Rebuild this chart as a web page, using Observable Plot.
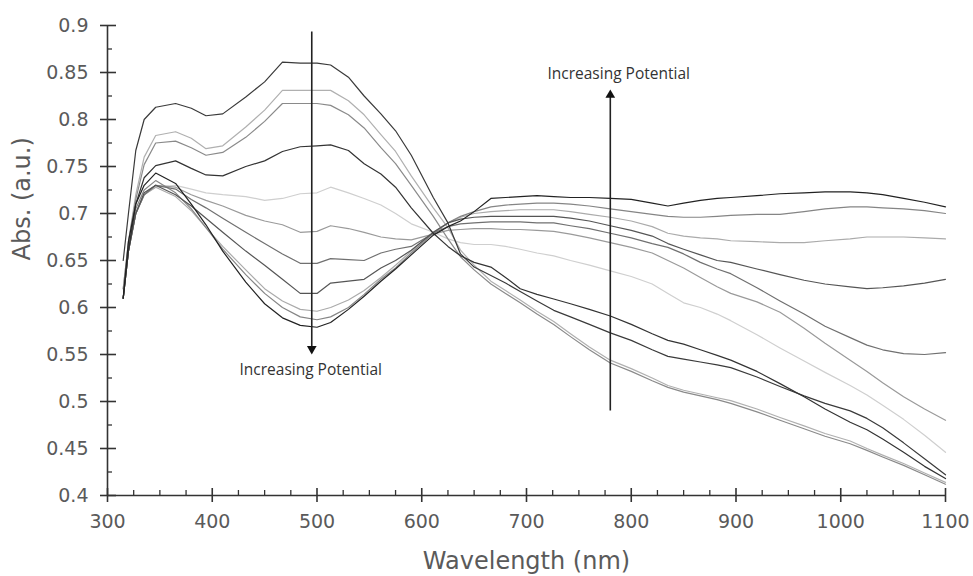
<!DOCTYPE html>
<html>
<head>
<meta charset="utf-8">
<script src="https://cdn.jsdelivr.net/npm/d3@7"></script>
<script src="https://cdn.jsdelivr.net/npm/@observablehq/plot@0.6"></script>
<style>
  html, body { margin: 0; padding: 0; background: #fff; }
  #chart { width: 973px; height: 576px; }
</style>
</head>
<body>
<div id="chart"></div>
<script>
// ---- data ----
const wavelength = [315,320,327,335,346,365,380,394,410,432,450,467,484,500,513,530,545,561,575,590,611,625,637,650,666,680,694,710,726,742,760,780,800,820,835,850,866,882,895,920,942,965,985,1009,1025,1040,1060,1080,1100];

const specA = [0.65,0.70,0.767,0.80,0.813,0.817,0.812,0.804,0.806,0.824,0.84,0.861,0.86,0.86,0.858,0.845,0.825,0.806,0.788,0.762,0.717,0.69,0.657,0.643,0.634,0.626,0.617,0.607,0.597,0.59,0.582,0.573,0.565,0.555,0.548,0.545,0.542,0.539,0.536,0.526,0.516,0.506,0.498,0.49,0.482,0.472,0.456,0.439,0.422];
const specB = [0.62,0.67,0.72,0.76,0.783,0.787,0.78,0.769,0.772,0.792,0.81,0.831,0.831,0.831,0.831,0.82,0.805,0.784,0.766,0.74,0.706,0.685,0.661,0.645,0.628,0.618,0.608,0.596,0.585,0.572,0.558,0.544,0.535,0.525,0.517,0.512,0.508,0.504,0.501,0.492,0.483,0.474,0.466,0.458,0.45,0.443,0.434,0.424,0.414];
const specC = [0.62,0.67,0.715,0.752,0.775,0.777,0.77,0.762,0.765,0.781,0.798,0.817,0.817,0.817,0.815,0.805,0.791,0.77,0.753,0.73,0.697,0.673,0.654,0.64,0.625,0.615,0.605,0.593,0.582,0.569,0.555,0.541,0.532,0.522,0.515,0.51,0.506,0.502,0.498,0.489,0.48,0.471,0.463,0.455,0.448,0.441,0.432,0.422,0.412];
const specD = [0.61,0.66,0.71,0.738,0.751,0.756,0.748,0.741,0.74,0.75,0.756,0.766,0.771,0.772,0.773,0.767,0.753,0.742,0.728,0.706,0.679,0.665,0.655,0.648,0.643,0.632,0.62,0.614,0.609,0.604,0.598,0.591,0.582,0.572,0.565,0.561,0.555,0.549,0.544,0.532,0.519,0.505,0.492,0.478,0.47,0.46,0.446,0.431,0.418];
const specE = [0.61,0.66,0.70,0.72,0.728,0.73,0.726,0.722,0.72,0.718,0.714,0.716,0.721,0.722,0.728,0.722,0.716,0.709,0.70,0.689,0.68,0.673,0.669,0.667,0.667,0.665,0.662,0.658,0.655,0.65,0.645,0.639,0.633,0.625,0.615,0.605,0.60,0.593,0.586,0.571,0.557,0.543,0.531,0.517,0.507,0.496,0.481,0.464,0.446];
const specF = [0.61,0.66,0.70,0.72,0.73,0.728,0.72,0.714,0.708,0.698,0.692,0.688,0.68,0.681,0.687,0.684,0.68,0.675,0.673,0.672,0.678,0.682,0.683,0.684,0.684,0.683,0.683,0.682,0.681,0.678,0.674,0.669,0.664,0.658,0.65,0.642,0.632,0.622,0.615,0.606,0.595,0.578,0.562,0.544,0.532,0.52,0.505,0.492,0.48];
const specG = [0.61,0.66,0.70,0.72,0.73,0.726,0.715,0.706,0.695,0.68,0.668,0.657,0.647,0.647,0.652,0.651,0.65,0.658,0.662,0.665,0.679,0.686,0.689,0.69,0.691,0.691,0.691,0.69,0.69,0.687,0.684,0.679,0.674,0.668,0.664,0.657,0.648,0.641,0.636,0.621,0.607,0.593,0.58,0.568,0.56,0.555,0.551,0.55,0.552];
const specH = [0.61,0.66,0.70,0.722,0.73,0.72,0.708,0.695,0.68,0.66,0.645,0.63,0.615,0.615,0.626,0.628,0.63,0.642,0.65,0.661,0.68,0.69,0.694,0.696,0.697,0.697,0.697,0.697,0.697,0.695,0.692,0.687,0.682,0.676,0.668,0.662,0.656,0.65,0.648,0.641,0.635,0.629,0.625,0.622,0.62,0.621,0.623,0.626,0.63];
const specI = [0.61,0.66,0.70,0.72,0.728,0.718,0.703,0.685,0.665,0.64,0.62,0.607,0.598,0.596,0.60,0.608,0.618,0.632,0.645,0.66,0.68,0.69,0.696,0.70,0.702,0.703,0.704,0.704,0.704,0.702,0.699,0.696,0.692,0.686,0.679,0.676,0.674,0.673,0.671,0.67,0.669,0.669,0.671,0.673,0.675,0.675,0.675,0.674,0.673];
const specJ = [0.61,0.665,0.705,0.725,0.735,0.722,0.705,0.685,0.662,0.635,0.615,0.60,0.59,0.587,0.59,0.60,0.614,0.63,0.642,0.658,0.679,0.69,0.697,0.702,0.707,0.709,0.71,0.711,0.711,0.71,0.708,0.705,0.702,0.699,0.697,0.696,0.696,0.697,0.698,0.699,0.699,0.702,0.705,0.707,0.707,0.706,0.705,0.703,0.70];
const specK = [0.61,0.67,0.71,0.73,0.743,0.732,0.71,0.688,0.66,0.627,0.604,0.589,0.581,0.579,0.584,0.598,0.612,0.628,0.641,0.656,0.677,0.686,0.692,0.702,0.716,0.717,0.718,0.719,0.718,0.717,0.717,0.716,0.715,0.711,0.708,0.711,0.714,0.716,0.717,0.719,0.721,0.722,0.723,0.723,0.722,0.72,0.716,0.712,0.707];

const seriesNames = ["A","B","C","D","E","F","G","H","I","J","K"];
const seriesValues = [specA,specB,specC,specD,specE,specF,specG,specH,specI,specJ,specK];

const xMajor = [300,400,500,600,700,800,900,1000,1100];
const xMinor = [325,350,375,425,450,475,525,550,575,625,650,675,725,750,775,825,850,875,925,950,975,1025,1050,1075];
const yMajor = [0.4,0.45,0.5,0.55,0.6,0.65,0.7,0.75,0.8,0.85,0.9];
const yMinor = [0.425,0.475,0.525,0.575,0.625,0.675,0.725,0.775,0.825,0.875];

const annotationText = ["Increasing Potential","Increasing Potential"];
const arrowX = [495, 780];
const arrowFrom = [0.893, 0.49];
const arrowTo = [0.556, 0.826];
const textX = [494, 788];
const textY = [0.533, 0.848];

// ---- styles ----
const strokeFor = {A:"#3a3a3a",B:"#b0b0b0",C:"#8a8a8a",D:"#333333",E:"#cfcfcf",F:"#9a9a9a",G:"#707070",H:"#555555",I:"#ababab",J:"#858585",K:"#222222"};
const drawOrder = ["E","I","B","F","J","C","G","H","A","D","K"];

const rows = [];
seriesNames.forEach((s, k) => {
  wavelength.forEach((w, i) => rows.push({series: s, wl: w, v: seriesValues[k][i]}));
});

const arrows = arrowX.map((x, i) => ({x, y1: arrowFrom[i], y2: arrowTo[i], up: arrowTo[i] > arrowFrom[i]}));
const labels = annotationText.map((t, i) => ({t, x: textX[i], y: textY[i]}));

const axisColor = "#333";
const labelColor = "#5a5a5a";
const font = "DejaVu Sans, sans-serif";

const chart = Plot.plot({
  width: 973,
  height: 576,
  marginLeft: 107,
  marginRight: 28,
  marginTop: 25,
  marginBottom: 81,
  style: {background: "#fff", fontFamily: font},
  x: {domain: [300, 1100]},
  y: {domain: [0.4, 0.9]},
  marks: [
    ...drawOrder.map(s => Plot.line(rows.filter(d => d.series === s), {x: "wl", y: "v", stroke: strokeFor[s], strokeWidth: 1.2})),
    // axis lines
    Plot.ruleY([0.4], {x1: 300, x2: 1100, stroke: axisColor, strokeWidth: 1.6}),
    Plot.ruleX([300], {y1: 0.4, y2: 0.9, stroke: axisColor, strokeWidth: 1.6}),
    // ticks
    Plot.ruleX(xMajor, {y1: 0.4, y2: 0.4, insetTop: -7, insetBottom: -7, stroke: axisColor, strokeWidth: 1.6}),
    Plot.ruleX(xMinor, {y1: 0.4, y2: 0.4, insetTop: -5, insetBottom: 0, stroke: axisColor, strokeWidth: 1.3}),
    Plot.ruleY(yMajor, {x1: 300, x2: 300, insetLeft: -7, insetRight: -9, stroke: axisColor, strokeWidth: 1.6}),
    Plot.ruleY(yMinor, {x1: 300, x2: 300, insetLeft: 0, insetRight: -5, stroke: axisColor, strokeWidth: 1.3}),
    // tick labels
    Plot.axisX(xMajor, {tickSize: 0, tickPadding: 19, fontSize: 19, fill: labelColor, label: null, tickFormat: d => String(d)}),
    Plot.axisY(yMajor, {tickSize: 0, tickPadding: 19, fontSize: 19, fill: labelColor, label: null, tickFormat: d => String(+d.toFixed(2))}),
    // axis titles
    Plot.text(["Wavelength (nm)"], {frameAnchor: "bottom", dy: 66, fontSize: 24, fill: labelColor, lineAnchor: "middle"}),
    Plot.text(["Abs. (a.u.)"], {frameAnchor: "left", dx: -85, rotate: -90, fontSize: 24, fill: labelColor, lineAnchor: "middle"}),
    // arrows
    Plot.ruleX(arrows, {x: "x", y1: "y1", y2: "y2", stroke: "#222", strokeWidth: 1.6}),
    Plot.dot(arrows, {x: "x", y: "y2", symbol: "triangle", r: 3.6, fill: "#111", stroke: "none", rotate: d => d.up ? 0 : 180}),
    Plot.text(labels, {x: "x", y: "y", text: "t", fontSize: 15.5, fill: "#333", fontFamily: "Open Sans, Lato, sans-serif"})
  ]
});
document.getElementById("chart").appendChild(chart);
</script>
</body>
</html>
